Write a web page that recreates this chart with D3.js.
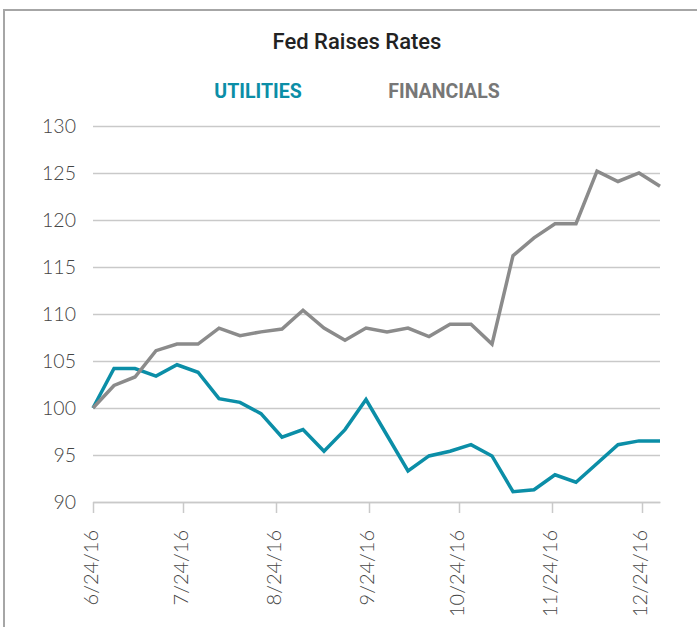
<!DOCTYPE html>
<html>
<head>
<meta charset="utf-8">
<script src="https://cdn.jsdelivr.net/npm/d3@7"></script>
<style>
  body { margin: 0; background: #fff; }
  svg { display: block; }
</style>
</head>
<body>
<div id="chart"></div>
<script>
var width = 697, height = 627;

// weekly closes, indexed to 100 on 6/24/16
var dates = ["2016-06-24","2016-07-01","2016-07-08","2016-07-15","2016-07-22","2016-07-29","2016-08-05",
  "2016-08-12","2016-08-19","2016-08-26","2016-09-02","2016-09-09","2016-09-16","2016-09-23","2016-09-30",
  "2016-10-07","2016-10-14","2016-10-21","2016-10-28","2016-11-04","2016-11-11","2016-11-18","2016-11-25",
  "2016-12-02","2016-12-09","2016-12-16","2016-12-23","2016-12-30"];
var utilities = [100, 104.2, 104.2, 103.4, 104.6, 103.8, 101.0, 100.6, 99.4, 96.9, 97.7, 95.4, 97.7, 100.9,
  97.1, 93.3, 94.9, 95.4, 96.1, 94.9, 91.1, 91.3, 92.9, 92.1, 94.1, 96.1, 96.5, 96.5];
var financials = [100, 102.4, 103.3, 106.1, 106.8, 106.8, 108.5, 107.7, 108.1, 108.4, 110.4, 108.5, 107.2, 108.5,
  108.1, 108.5, 107.6, 108.9, 108.9, 106.8, 116.2, 118.1, 119.6, 119.6, 125.2, 124.1, 125.0, 123.6];
var seriesNames = ["UTILITIES", "FINANCIALS"];
var seriesColors = ["#0b8ea7", "#8b8b8b"];
var yTicks = [90, 95, 100, 105, 110, 115, 120, 125, 130];
var xTicks = ["2016-06-24","2016-07-24","2016-08-24","2016-09-24","2016-10-24","2016-11-24","2016-12-24"];

var parse = d3.timeParse("%Y-%m-%d");
var fmt = function(d){ return (d.getMonth()+1) + "/" + d.getDate() + "/" + String(d.getFullYear()).slice(2); };

var svg = d3.select("#chart").append("svg")
  .attr("width", width).attr("height", height);

// frame (top and left only)
svg.append("path")
  .attr("d", "M4,627V10H697")
  .attr("fill", "none")
  .attr("stroke", "#a6a6a6")
  .attr("stroke-width", 2);

var x = d3.scaleTime()
  .domain([parse(dates[0]), parse(dates[dates.length-1])])
  .range([93, 660]);
var y = d3.scaleLinear().domain([90, 130]).range([502, 126]);

svg.append("text")
  .attr("x", 357).attr("y", 49)
  .attr("text-anchor", "middle")
  .style("font-family", "Roboto, 'DejaVu Sans', sans-serif")
  .style("font-weight", 500)
  .style("font-size", "22px")
  .style("fill", "#222")
  .text("Fed Raises Rates");

// legend
var legX = [258, 444];
seriesNames.forEach(function(n, i){
  svg.append("text")
    .attr("x", legX[i]).attr("y", 98)
    .attr("text-anchor", "middle")
    .style("font-family", "Roboto, 'DejaVu Sans', sans-serif")
    .style("font-weight", "bold")
    .style("font-size", "19.5px")
    .style("fill", i == 0 ? seriesColors[0] : "#777")
    .text(n);
});

// y gridlines + labels
var yAxis = svg.append("g")
  .attr("transform", "translate(93,0)")
  .call(d3.axisLeft(y).tickValues(yTicks).tickSize(-567).tickPadding(17));
yAxis.select(".domain").remove();
yAxis.selectAll(".tick line").attr("stroke", "#c9c9c9").attr("stroke-width", 1.5);
yAxis.selectAll(".tick text")
  .style("font-family", "Lato, 'Open Sans', sans-serif")
  .style("font-weight", 300)
  .style("font-size", "19.5px")
  .style("fill", "#444");

// x axis
var xAxis = svg.append("g")
  .attr("transform", "translate(0,502)")
  .call(d3.axisBottom(x).tickValues(xTicks.map(parse)).tickFormat(fmt).tickSize(11).tickSizeOuter(0));
xAxis.select(".domain").attr("stroke", "#c9c9c9").attr("stroke-width", 1.5);
xAxis.selectAll(".tick line").attr("stroke", "#c9c9c9").attr("stroke-width", 1.5);
xAxis.selectAll(".tick text")
  .attr("transform", "rotate(-90)")
  .attr("x", -28).attr("y", -3).attr("dy", "0.35em")
  .attr("text-anchor", "end")
  .style("font-family", "Lato, 'Open Sans', sans-serif")
  .style("font-weight", 300)
  .style("font-size", "20px")
  .style("fill", "#444");

var line = d3.line()
  .x(function(d){ return x(d.date); })
  .y(function(d){ return y(d.v); });

[utilities, financials].forEach(function(vals, i){
  var data = vals.map(function(v, j){ return { date: parse(dates[j]), v: v }; });
  svg.append("path")
    .datum(data)
    .attr("fill", "none")
    .attr("stroke", seriesColors[i])
    .attr("stroke-width", 3.5)
    .attr("stroke-linejoin", "miter")
    .attr("d", line);
});
</script>
</body>
</html>
